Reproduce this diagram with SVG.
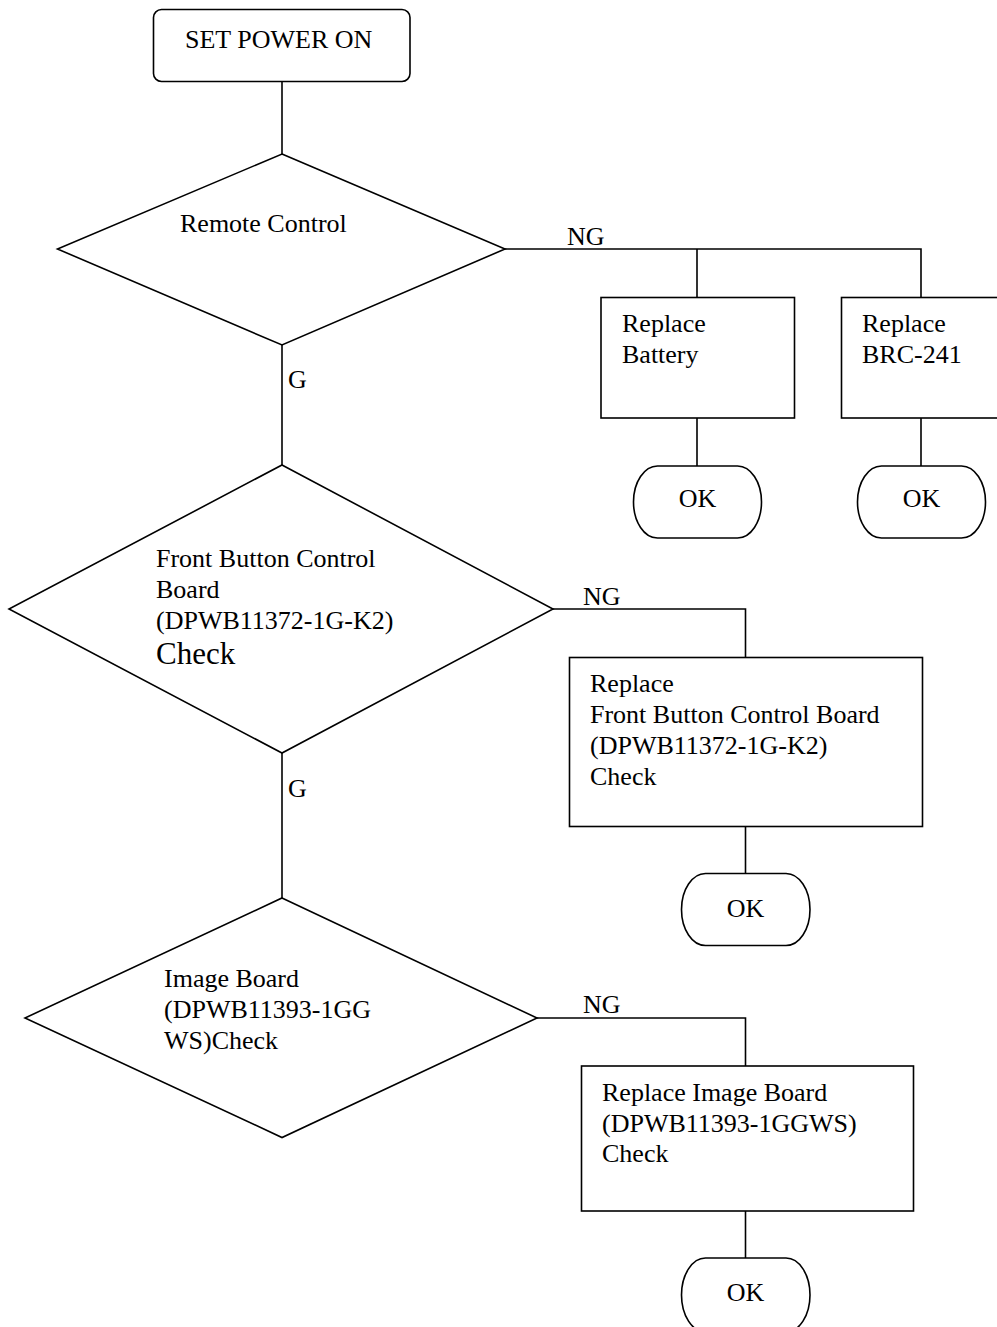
<svg xmlns="http://www.w3.org/2000/svg" width="997" height="1327" viewBox="0 0 997 1327">
<style>
.s{fill:#fff;stroke:#000;stroke-width:1.6}
.c{fill:none;stroke:#000;stroke-width:1.6}
text{font-family:"Liberation Serif","Times New Roman",serif;font-size:26px;fill:#000}
.m{text-anchor:middle}
</style>
<rect width="997" height="1327" fill="#fff"/>
<g id="connectors">
<path class="c" d="M282,82V154"/>
<path class="c" d="M505,249H921V297M697,249V297"/>
<path class="c" d="M697,418V466M921,418V466"/>
<path class="c" d="M282,345V465"/>
<path class="c" d="M553,609H745.5V657"/>
<path class="c" d="M745.5,826V873"/>
<path class="c" d="M282,753V898"/>
<path class="c" d="M536,1018H745.5V1066"/>
<path class="c" d="M745.5,1210V1258"/>
<text x="567" y="245">NG</text>
<text x="288" y="388">G</text>
<text x="583" y="605">NG</text>
<text x="288" y="797">G</text>
<text x="583" y="1013">NG</text>
</g>
<g id="start">
<rect class="s" x="153.5" y="9.5" width="256.5" height="72" rx="8"/>
<text x="185" y="48">SET POWER ON</text>
</g>
<g id="d1">
<polygon class="s" points="282,154 505,249 282,345 57.5,249"/>
<text x="180" y="232">Remote Control</text>
</g>
<g id="battery">
<rect class="s" x="601" y="297.5" width="193.5" height="120.5"/>
<text x="622" y="332">Replace</text>
<text x="622" y="363">Battery</text>
</g>
<g id="brc">
<rect class="s" x="841.5" y="297.5" width="160" height="120.5"/>
<text x="862" y="332">Replace</text>
<text x="862" y="363">BRC-241</text>
</g>
<g id="ok1">
<rect class="s" x="633.5" y="466" width="128" height="72" rx="24" ry="36"/>
<text class="m" x="697.5" y="507">OK</text>
</g>
<g id="ok2">
<rect class="s" x="857.5" y="466" width="128" height="72" rx="24" ry="36"/>
<text class="m" x="921.5" y="507">OK</text>
</g>
<g id="d2">
<polygon class="s" points="282,465 553,609 282,753 9,609"/>
<text x="156" y="567">Front Button Control</text>
<text x="156" y="598">Board</text>
<text x="156" y="629">(DPWB11372-1G-K2)</text>
<text x="156" y="664" style="font-size:31px">Check</text>
</g>
<g id="fbreplace">
<rect class="s" x="569.5" y="657.5" width="353" height="169"/>
<text x="590" y="692">Replace</text>
<text x="590" y="723">Front Button Control Board</text>
<text x="590" y="754">(DPWB11372-1G-K2)</text>
<text x="590" y="785">Check</text>
</g>
<g id="ok3">
<rect class="s" x="681.5" y="873.5" width="128.5" height="72" rx="24" ry="36"/>
<text class="m" x="745.5" y="917">OK</text>
</g>
<g id="d3">
<polygon class="s" points="282,898 537,1018 282,1137.5 25,1018"/>
<text x="164" y="987">Image Board</text>
<text x="164" y="1018">(DPWB11393-1GG</text>
<text x="164" y="1049">WS)Check</text>
</g>
<g id="ibreplace">
<rect class="s" x="581.5" y="1066" width="332" height="145"/>
<text x="602" y="1101">Replace Image Board</text>
<text x="602" y="1132">(DPWB11393-1GGWS)</text>
<text x="602" y="1162">Check</text>
</g>
<g id="ok4">
<rect class="s" x="681.5" y="1258" width="128.5" height="74" rx="24" ry="37"/>
<text class="m" x="745.5" y="1301">OK</text>
</g>
</svg>
